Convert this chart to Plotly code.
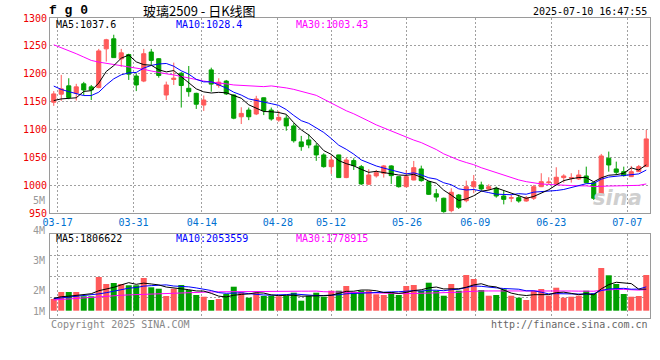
import plotly.graph_objects as go

# ---------------- data ----------------
dates = ["03-14", "03-17", "03-18", "03-19", "03-20", "03-21", "03-24", "03-25", "03-26", "03-27",
         "03-28", "03-31", "04-01", "04-02", "04-03", "04-07", "04-08", "04-09", "04-10", "04-11",
         "04-14", "04-15", "04-16", "04-17", "04-18", "04-21", "04-22", "04-23", "04-24", "04-25",
         "04-28", "04-29", "04-30", "05-06", "05-07", "05-08", "05-09", "05-12", "05-13", "05-14",
         "05-15", "05-16", "05-19", "05-20", "05-21", "05-22", "05-23", "05-26", "05-27", "05-28",
         "05-29", "05-30", "06-03", "06-04", "06-05", "06-06", "06-09", "06-10", "06-11", "06-12",
         "06-13", "06-16", "06-17", "06-18", "06-19", "06-20", "06-23", "06-24", "06-25", "06-26",
         "06-27", "06-30", "07-01", "07-02", "07-03", "07-04", "07-07", "07-08", "07-09", "07-10"]

open_ = [1149, 1163.5, 1178.4, 1165.3, 1182, 1176.6, 1175.3, 1244.7, 1262.7, 1226.8,
         1234.5, 1196, 1187, 1239, 1227, 1162, 1190, 1201, 1174, 1165,
         1144, 1207, 1179, 1187, 1162, 1123, 1135, 1128, 1157, 1135,
         1117, 1120.5, 1106.6, 1078, 1081.5, 1070.7, 1054.6, 1033.6, 1054.6, 1014,
         1044.4, 1033.6, 1002, 1017, 1021.8, 1034.9, 1015.7, 997.7, 1009.7, 1029.5,
         1006.7, 985, 977, 954.7, 982.8, 972.6, 997.7, 1000.8, 993.6, 994.8,
         981, 977, 978, 972, 977, 997.7, 1005, 1002.6, 1013.9, 1013,
         1011.5, 1016.9, 1004.9, 982.8, 1048.6, 1029.5, 1024.6, 1015.7, 1024.6, 1033.6]

high = [1169, 1198, 1192, 1182, 1185.5, 1180, 1244.7, 1262.7, 1270, 1244.7,
        1236, 1201, 1244.7, 1244.7, 1228, 1186, 1220, 1203, 1214, 1166,
        1161, 1211, 1192, 1189, 1163, 1140, 1139.5, 1160.5, 1157.5, 1139.5,
        1133.5, 1126, 1111.5, 1088.7, 1091.7, 1075.6, 1057.6, 1052.8, 1055, 1049.7,
        1048.6, 1036.6, 1029, 1027.7, 1036.6, 1036, 1016, 1027.7, 1043.8, 1035.4,
        1007, 993.6, 978, 994.8, 984.6, 1008.5, 1018.7, 1006.7, 1002, 997.7,
        990.5, 983, 983, 981, 1000.8, 1021.8, 1014.6, 1032.5, 1020, 1021.8,
        1027.7, 1033.6, 1005.5, 1056.4, 1060.6, 1042.6, 1033.6, 1034.9, 1036.6, 1099.4]

low = [1142.5, 1151.5, 1154.5, 1152, 1162, 1153, 1174, 1222, 1229, 1212.5,
       1189, 1169, 1185, 1216, 1193, 1153, 1180, 1139.5, 1159, 1137,
       1133.5, 1168, 1175, 1162, 1118.6, 1110, 1117, 1126, 1126, 1116,
       1114, 1098, 1076.7, 1062, 1066.6, 1044, 1031.8, 1020.5, 1013.5, 1013,
       1027.7, 1000.8, 1000.8, 1014, 1014, 1002.6, 996, 996.5, 1009.2, 1006.7,
       982.8, 971, 951, 951.8, 957.7, 969.7, 985.9, 990.5, 991, 978,
       966, 970, 969, 970.8, 973.9, 997, 1002, 1000.8, 1004.9, 1005,
       1009.7, 1003.8, 973.9, 982, 1024.6, 1018.7, 1015.7, 1015, 1024, 1033]

close = [1164, 1173, 1157.4, 1176.6, 1171, 1171, 1241, 1261, 1229, 1237.6,
         1199.4, 1180, 1236, 1224, 1197, 1180, 1192, 1179, 1168, 1145.5,
         1153, 1181.5, 1185, 1164, 1120.5, 1129, 1123, 1155, 1134, 1119,
         1122, 1106.6, 1080, 1069.5, 1072.5, 1054.6, 1033.6, 1045.6, 1014, 1045.6,
         1035.4, 1002.6, 1018.7, 1022.8, 1034.9, 1017.5, 997.7, 1015.7, 1031.8, 1008.5,
         984, 979, 953, 987.7, 960.8, 997.7, 1006.7, 993.6, 997.7, 981,
         975, 978, 972, 978, 997.7, 1006.7, 1006, 1014.6, 1016.9, 1014,
         1018.7, 1004.9, 976.9, 1052.8, 1036.6, 1023.5, 1017.5, 1024.6, 1033.6, 1083.3]

ma5 = [1152, 1155, 1156, 1157, 1168.4, 1169.8, 1183.4, 1204.2, 1214.6, 1228,
       1233.6, 1221.4, 1216.4, 1215.4, 1207.2, 1203.4, 1205.8, 1194.4, 1183.2, 1173,
       1167.6, 1165.6, 1166.8, 1166, 1161, 1156.2, 1144.4, 1138.4, 1132.4, 1132,
       1130.6, 1127.4, 1112.4, 1099.6, 1090.4, 1077, 1062.4, 1055.6, 1044.4, 1039,
       1035, 1028.8, 1023.4, 1025.2, 1023, 1019.6, 1018.6, 1018, 1019.8, 1014.6,
       1007.8, 1004, 991.4, 982.6, 973, 975.8, 981.4, 989.6, 991.6, 995.6,
       991, 985.2, 980.8, 976.8, 980.2, 986.6, 992.2, 1000.8, 1008.6, 1011.8,
       1014.2, 1014, 1006.4, 1013.6, 1018.2, 1019.2, 1021.8, 1031.4, 1027.6, 1036.8]

ma10 = [1178, 1172, 1168, 1164, 1161, 1161, 1167, 1180, 1191, 1198.2,
        1201.7, 1202.4, 1210.3, 1215, 1217.6, 1218.5, 1213.6, 1205.4, 1199.3, 1190.1,
        1185.5, 1185.7, 1180.6, 1174.6, 1167, 1161.9, 1155, 1152.6, 1149.2, 1146.5,
        1143.4, 1135.9, 1125.4, 1116, 1111.2, 1103.8, 1094.9, 1084, 1072, 1064.7,
        1056, 1045.6, 1039.5, 1034.8, 1031, 1027.3, 1023.7, 1020.7, 1022.5, 1018.8,
        1013.7, 1011.3, 1004.7, 1001.2, 993.8, 991.8, 992.7, 990.5, 987.1, 984.3,
        983.4, 983.3, 985.2, 984.2, 987.9, 988.8, 988.7, 990.8, 992.7, 996,
        1000.4, 1003.1, 1003.6, 1011.1, 1015, 1016.7, 1017.9, 1018.9, 1020.6, 1027.5]

ma30 = [1252, 1247, 1242, 1236, 1230, 1224, 1221, 1219, 1216, 1214,
        1212, 1210, 1208, 1205, 1202, 1200, 1198, 1195, 1192, 1189,
        1187, 1185, 1184, 1182, 1180, 1179, 1178, 1177, 1177, 1178.3,
        1176.9, 1174.7, 1172.1, 1168.5, 1165.3, 1161.4, 1154.5, 1147.3, 1140.2, 1133.8,
        1128.3, 1122.4, 1115.2, 1108.5, 1103.1, 1097.7, 1091.2, 1085.8, 1081.2, 1076.7,
        1071, 1064.3, 1056.5, 1050.7, 1045.3, 1041, 1037.1, 1031.7, 1027.2, 1022.6,
        1017.7, 1013.4, 1009.8, 1006.7, 1004.2, 1002.6, 1001.7, 1000.7, 1000.8, 999.7,
        999.2, 999.2, 997.8, 998.8, 998.9, 999.1, 999.8, 1000.1, 1000.1, 1002.6]

volume = [980000, 1567000, 1567000, 1567000, 1207000, 1207000, 2824000, 2237000, 2321000, 2237000,
          2129000, 2129000, 2740000, 1961000, 1844000, 1232000, 1844000, 2154000, 1735000, 1316000,
          1173000, 897000, 980000, 1399000, 2011000, 1542000, 1089000, 1508000, 1232000, 1257000,
          1207000, 1257000, 1508000, 838000, 1257000, 1508000, 1173000, 1676000, 1676000, 2070000,
          1567000, 1676000, 1676000, 1374000, 1316000, 1567000, 1316000, 2070000, 2154000, 1676000,
          2346000, 1676000, 1257000, 2237000, 1676000, 2992000, 2656000, 1735000, 1257000, 1316000,
          1793000, 1257000, 1089000, 897000, 1676000, 1818000, 1257000, 1927000, 1089000, 1173000,
          1257000, 1676000, 1458000, 3578000, 2967000, 2237000, 1399000, 1173000, 1232000, 2992000]

vol_ma5 = [1039000, 1173000, 1215000, 1274000, 1378000, 1423000, 1674000, 1808000, 1959000, 2165000,
           2350000, 2211000, 2311000, 2239000, 2160000, 1981000, 1924000, 1807000, 1761000, 1656000,
           1644000, 1455000, 1220000, 1153000, 1292000, 1366000, 1404000, 1510000, 1477000, 1326000,
           1259000, 1292000, 1292000, 1213000, 1213000, 1274000, 1257000, 1291000, 1458000, 1621000,
           1632000, 1733000, 1733000, 1673000, 1522000, 1522000, 1450000, 1529000, 1684000, 1756000,
           1912000, 1984000, 1822000, 1839000, 1839000, 1968000, 2164000, 2259000, 2063000, 1991000,
           1751000, 1472000, 1342000, 1270000, 1342000, 1348000, 1348000, 1515000, 1554000, 1453000,
           1341000, 1425000, 1331000, 1829000, 2187000, 2383000, 2328000, 2271000, 1802000, 1807000]

vol_ma10 = [1006000, 1064000, 1115000, 1173000, 1232000, 1307000, 1408000, 1508000, 1634000, 1772000,
            1886000, 1942000, 2060000, 2099000, 2163000, 2165000, 2067000, 2059000, 2000000, 1908000,
            1813000, 1689000, 1513000, 1457000, 1474000, 1505000, 1430000, 1365000, 1315000, 1309000,
            1312000, 1348000, 1401000, 1345000, 1270000, 1266000, 1275000, 1291000, 1336000, 1417000,
            1453000, 1495000, 1512000, 1565000, 1571000, 1577000, 1591000, 1631000, 1679000, 1639000,
            1717000, 1717000, 1675000, 1761000, 1798000, 1940000, 2074000, 2041000, 1951000, 1915000,
            1860000, 1818000, 1801000, 1667000, 1667000, 1549000, 1409000, 1429000, 1412000, 1398000,
            1344000, 1386000, 1423000, 1691000, 1820000, 1862000, 1876000, 1801000, 1815000, 1997000]

vol_ma30 = [897000, 947000, 989000, 1031000, 1073000, 1115000, 1173000, 1223000, 1257000, 1291000,
            1324000, 1349000, 1374000, 1399000, 1425000, 1450000, 1483000, 1525000, 1550000, 1559000,
            1567000, 1575000, 1584000, 1592000, 1601000, 1609000, 1626000, 1634000, 1651000, 1663000,
            1670000, 1660000, 1658000, 1634000, 1636000, 1646000, 1591000, 1572000, 1550000, 1544000,
            1526000, 1511000, 1476000, 1456000, 1438000, 1450000, 1432000, 1429000, 1443000, 1455000,
            1494000, 1520000, 1529000, 1557000, 1546000, 1595000, 1647000, 1654000, 1655000, 1657000,
            1677000, 1677000, 1663000, 1664000, 1678000, 1689000, 1692000, 1700000, 1680000, 1651000,
            1640000, 1640000, 1633000, 1706000, 1761000, 1784000, 1787000, 1756000, 1726000, 1770000]

price_ticks = [950, 1000, 1050, 1100, 1150, 1200, 1250, 1300]
date_ticks = ["03-17", "03-31", "04-14", "04-28", "05-12", "05-26", "06-09", "06-23", "07-07"]
vol_tick_labels = ["5M", "4M", "3M", "2M", "1M"]

title_text = "玻璃2509 - 日K线图"
symbol_text = "f g 0"
time_text = "2025-07-10 16:47:55"
price_ma_labels = ["MA5:1037.6", "MA10:1028.4", "MA30:1003.43"]
vol_ma_labels = ["MA5:1806622", "MA10:2053559", "MA30:1778915"]
footer_left = "Copyright 2025 SINA.COM"
footer_right = "http://finance.sina.com.cn"

# ---------------- styling ----------------
RED = "#ff5a5a"
GREEN = "#00a000"
MA_COLORS = ["#000000", "#0000ff", "#ff00ff"]
GRID = "#a0a0a0"
FRAME = "#9a9a9a"
MONO = "DejaVu Sans Mono"

W, H = 660, 360
ML, MR, MT, MB = 50, 10, 18, 42
PW, PH = W - ML - MR, H - MT - MB


def px_x(px):
    return (px - ML) / PW


def px_y(py):
    return (H - MB - py) / PH


n = len(dates)
xi = list(range(n))
date_pos = [dates.index(d) * n / (n - 1) - 0.5 for d in date_ticks]
bar_colors = [RED if c >= o else GREEN for o, c in zip(open_, close)]

fig = go.Figure()

fig.add_trace(go.Candlestick(
    x=xi, open=open_, high=high, low=low, close=close,
    increasing=dict(line=dict(color=RED, width=1), fillcolor=RED),
    decreasing=dict(line=dict(color=GREEN, width=1), fillcolor=GREEN),
    whiskerwidth=0, showlegend=False, hoverinfo="skip",
    xaxis="x", yaxis="y"))

for vals, col in zip([ma30, ma10, ma5], [MA_COLORS[2], MA_COLORS[1], MA_COLORS[0]]):
    fig.add_trace(go.Scatter(x=xi, y=vals, mode="lines", line=dict(color=col, width=1),
                             showlegend=False, hoverinfo="skip", xaxis="x", yaxis="y"))

fig.add_trace(go.Bar(x=xi, y=volume, marker=dict(color=bar_colors, line=dict(width=0)),
                     width=0.8, showlegend=False, hoverinfo="skip", xaxis="x2", yaxis="y2"))

for vals, col in zip([vol_ma30, vol_ma10, vol_ma5], [MA_COLORS[2], MA_COLORS[1], MA_COLORS[0]]):
    fig.add_trace(go.Scatter(x=xi, y=vals, mode="lines", line=dict(color=col, width=1),
                             showlegend=False, hoverinfo="skip", xaxis="x2", yaxis="y2"))

# volume panel geometry: baseline at y=310.7px, 83800 shares per px
VPX = 83800
vol_top = (310.7 - 234.3) * VPX
vol_bot = -(H - MB - 310.7) * VPX
vol_grid = [(310.7 - g) * VPX for g in (297, 276, 255)]

price_dom = [px_y(213.3), 1.0]
vol_dom = [0.0, px_y(234.3)]

common_grid = dict(showgrid=True, gridcolor=GRID, griddash="2px,2px", gridwidth=1,
                   showline=True, linecolor=FRAME, linewidth=1, mirror=True, zeroline=False)

fig.update_layout(
    width=W, height=H,
    margin=dict(l=ML, r=MR, t=MT, b=MB),
    paper_bgcolor="white", plot_bgcolor="white",
    showlegend=False,
    boxgap=0.22,
    bargap=0.2,
    xaxis=dict(domain=[0, 1], anchor="y", range=[-0.5, n - 0.5],
               tickmode="array", tickvals=date_pos, ticktext=date_ticks,
               tickfont=dict(family=MONO, size=10, color="#0070d0"),
               ticks="", rangeslider=dict(visible=False), **common_grid),
    yaxis=dict(domain=price_dom, anchor="x", range=[950, 1300],
               tickmode="array", tickvals=price_ticks,
               tickfont=dict(family=MONO, size=10, color="#ee0000"),
               ticks="", **common_grid),
    xaxis2=dict(domain=[0, 1], anchor="y2", matches="x", range=[-0.5, n - 0.5],
                tickmode="array", tickvals=date_pos, showticklabels=False,
                ticks="", **common_grid),
    yaxis2=dict(domain=vol_dom, anchor="x2", range=[vol_bot, vol_top],
                tickmode="array", tickvals=vol_grid, showticklabels=False,
                ticks="", **common_grid),
)

ann = []


def add_text(text, x, y, color="#000", size=10, family=MONO, xanchor="left"):
    ann.append(dict(text=text, x=px_x(x), y=px_y(y), xref="paper", yref="paper",
                    xanchor=xanchor, yanchor="middle", showarrow=False,
                    font=dict(family=family, size=size, color=color)))


add_text("<b>" + symbol_text + "</b>", 47, 10, size=13, family="Liberation Mono")
add_text(title_text, 199, 10, size=13, family="Noto Sans CJK SC", xanchor="center")
add_text(time_text, 649, 12, xanchor="right")

for lab, col, x0 in zip(price_ma_labels, MA_COLORS, (54, 174, 294)):
    add_text(lab, x0, 24.5, color=col)
for lab, col, x0 in zip(vol_ma_labels, MA_COLORS, (54, 174, 294)):
    add_text(lab, x0, 238, color=col)

for lab, yy in zip(vol_tick_labels, (200.8, 230, 260.8, 290.5, 311)):
    add_text(lab, 47, yy, color="#999999", xanchor="right")

add_text(footer_left, 49, 324, color="#888888")
add_text(footer_right, 650, 324, color="#666666", xanchor="right")

add_text("<b><i>sina</i></b>", 617, 198, color="#cfcfcf", size=21, family="DejaVu Sans", xanchor="center")

fig.update_layout(annotations=ann)

fig.write_html("out.html", config={"displayModeBar": False},
               post_script="document.body.style.margin='0';document.body.style.padding='0';")
